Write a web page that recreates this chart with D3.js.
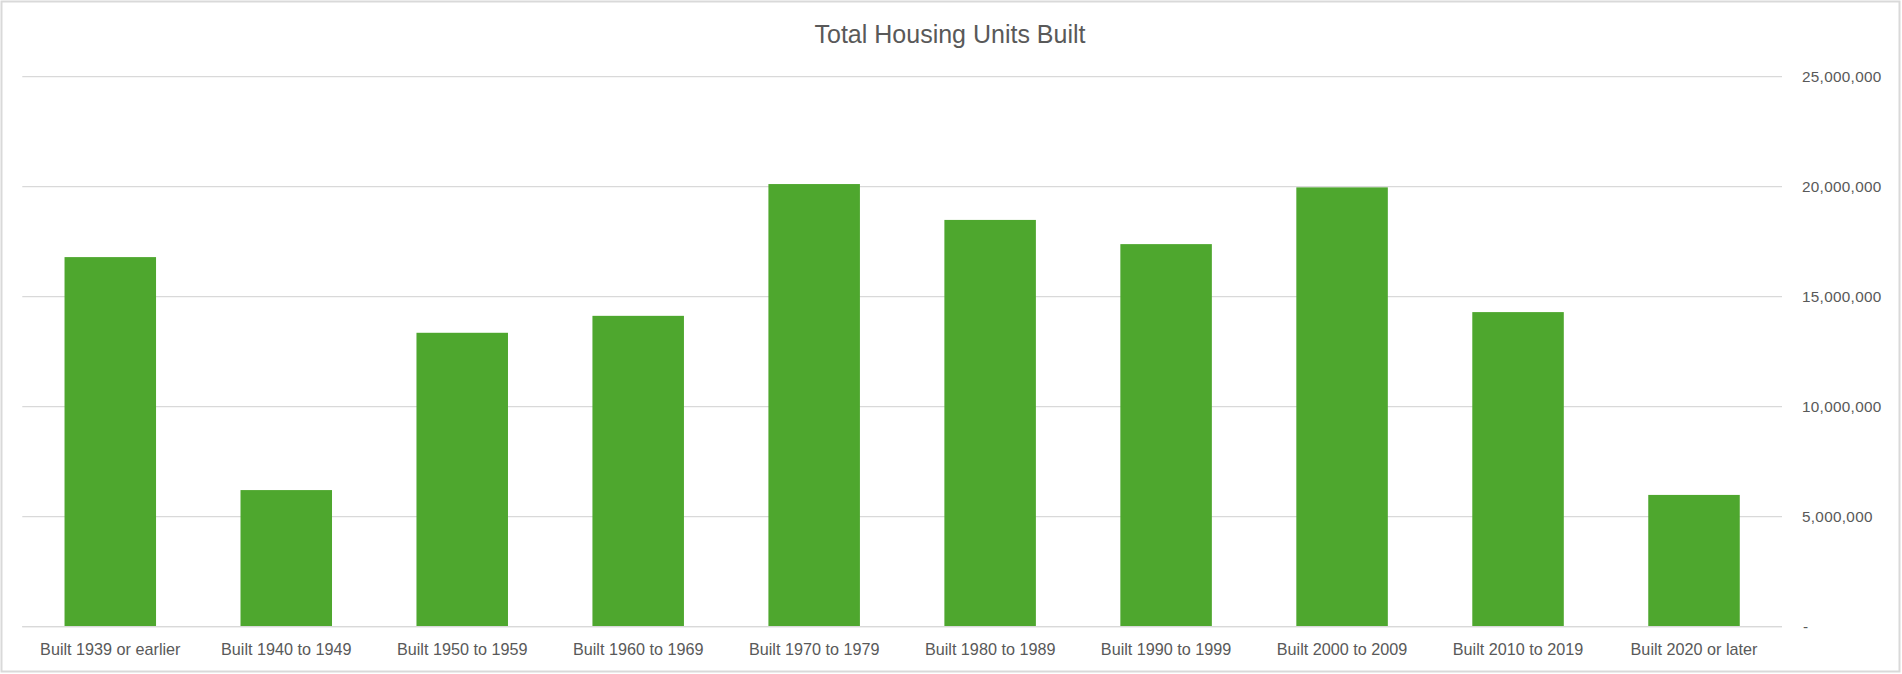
<!DOCTYPE html>
<html><head><meta charset="utf-8">
<script src="https://cdn.jsdelivr.net/npm/d3@7"></script>
<style>html,body{margin:0;padding:0;background:#fff;overflow:hidden}</style>
</head><body>
<svg id="chart" width="1902" height="674"></svg>
<script>
const title = "Total Housing Units Built";
const categories = ["Built 1939 or earlier","Built 1940 to 1949","Built 1950 to 1959","Built 1960 to 1969","Built 1970 to 1979","Built 1980 to 1989","Built 1990 to 1999","Built 2000 to 2009","Built 2010 to 2019","Built 2020 or later"];
const values = [16800000, 6210000, 13360000, 14130000, 20120000, 18490000, 17390000, 19970000, 14300000, 5990000];
const yTicks = [0, 5000000, 10000000, 15000000, 20000000, 25000000];

const svg = d3.select("#chart");
const W = 1902, H = 674;
const plot = {left: 22.3, right: 1782, top: 76.7, bottom: 626.7};

svg.append("rect").attr("x",1.5).attr("y",1.5).attr("width",W-4).attr("height",H-4)
  .attr("fill","#fff").attr("stroke","#d9d9d9").attr("stroke-width",2);

const x = d3.scaleBand().domain(categories).range([plot.left, plot.right])
  .paddingInner(0.48).paddingOuter(0.24);
const y = d3.scaleLinear().domain([0, 25000000]).range([plot.bottom, plot.top]);

// gridlines
svg.append("g").selectAll("line").data(yTicks).join("line")
  .attr("x1", plot.left).attr("x2", plot.right)
  .attr("y1", d => y(d)).attr("y2", d => y(d))
  .attr("stroke", "#d9d9d9").attr("stroke-width", 1.3);

// bars
svg.append("g").selectAll("rect").data(values).join("rect")
  .attr("x", (d,i) => x(categories[i]))
  .attr("width", x.bandwidth())
  .attr("y", d => y(d))
  .attr("height", d => y(0) - y(d))
  .attr("fill", "#4EA72E");

// baseline on top
svg.append("line").attr("x1", plot.left).attr("x2", plot.right)
  .attr("y1", y(0)).attr("y2", y(0)).attr("stroke","#d9d9d9").attr("stroke-width",1.3);

// y axis labels (right)
const fmt = d3.format(",");
const yAxis = d3.axisRight(y).tickValues(yTicks).tickSize(0).tickPadding(0)
  .tickFormat(d => d === 0 ? "-" : fmt(d));
const ya = svg.append("g").attr("transform", `translate(1802,0)`).call(yAxis);
ya.select(".domain").remove();
ya.selectAll("text").attr("font-family","'Liberation Sans', Arial, sans-serif")
  .attr("font-size", 15.3).attr("fill","#595959").attr("text-anchor","start")
  .attr("dy","0.3em").attr("x",0).style("letter-spacing","0.3px");
ya.selectAll("text").filter(d => d === 0).attr("x", 1);

// x axis labels
const xAxis = d3.axisBottom(x).tickSize(0).tickPadding(0);
const xa = svg.append("g").attr("transform", `translate(0,${plot.bottom})`).call(xAxis);
xa.select(".domain").remove();
xa.selectAll("text").attr("font-family","'Liberation Sans', Arial, sans-serif")
  .attr("font-size", 16.2).attr("fill","#595959").attr("y", 28).attr("dy", 0);

// title
svg.append("text").attr("x", 950).attr("y", 43).attr("text-anchor","middle")
  .attr("font-family","'Liberation Sans', Arial, sans-serif").attr("font-size", 25)
  .attr("fill","#595959").text(title);
</script>
</body></html>
